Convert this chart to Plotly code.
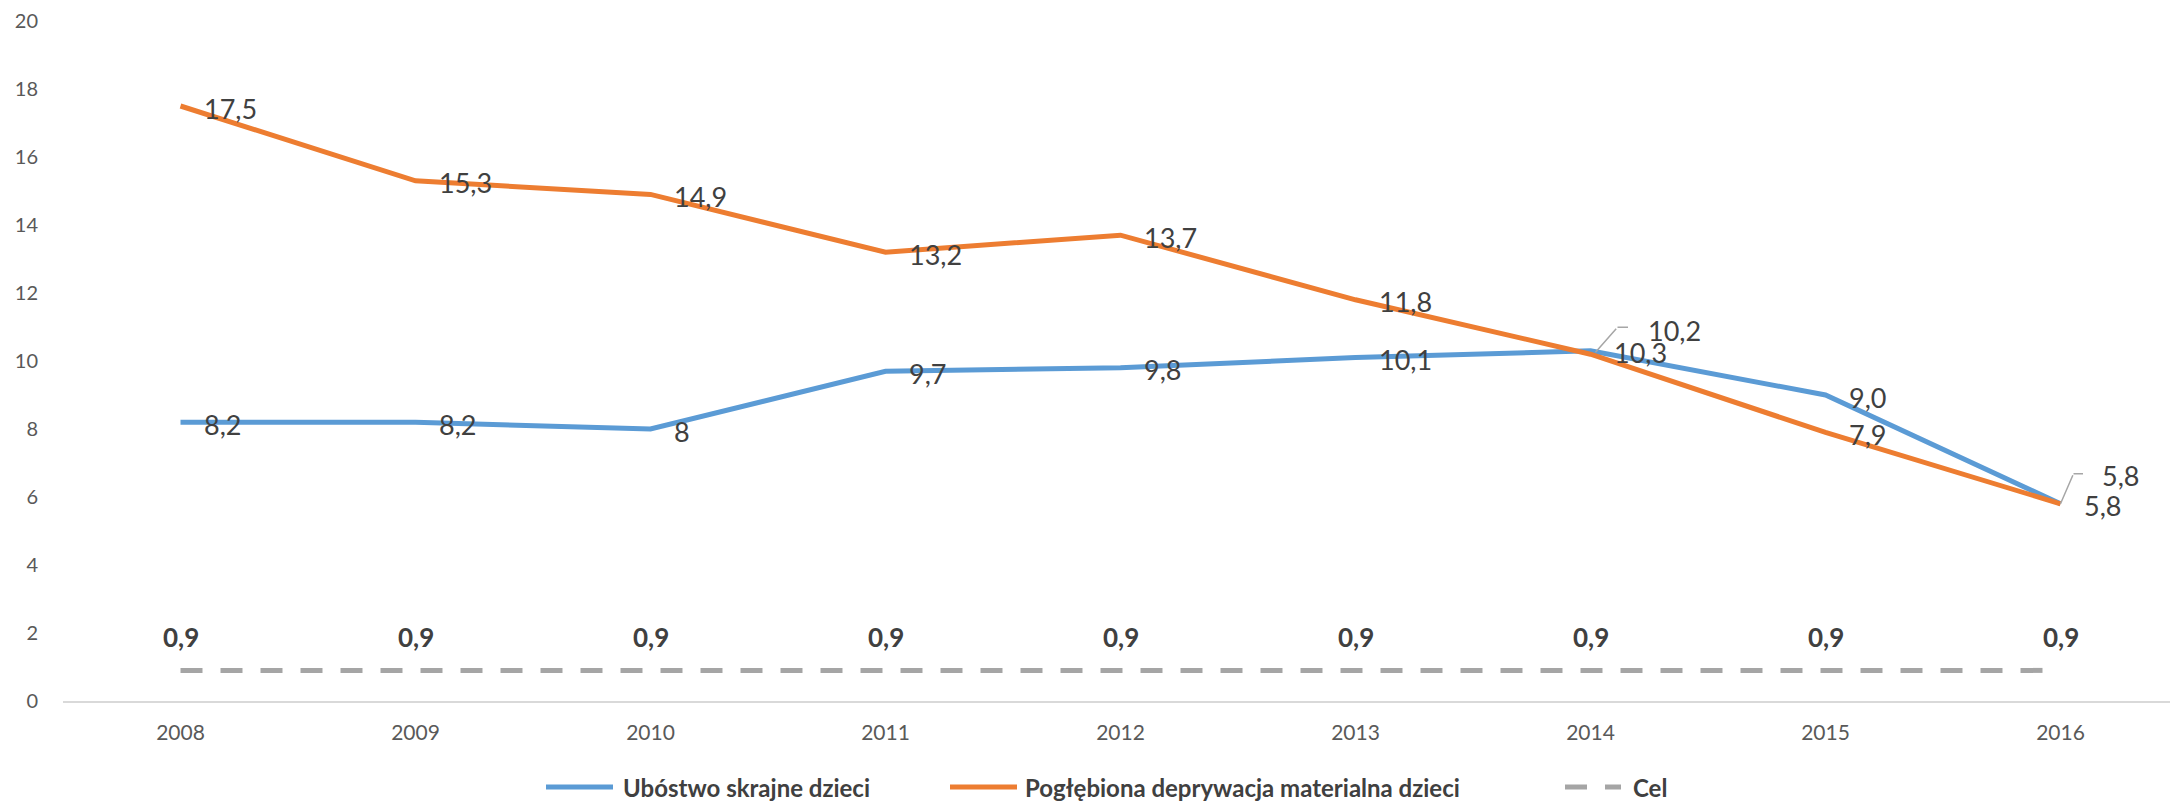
import plotly.graph_objects as go

years = [2008, 2009, 2010, 2011, 2012, 2013, 2014, 2015, 2016]
ubostwo = [8.2, 8.2, 8.0, 9.7, 9.8, 10.1, 10.3, 9.0, 5.8]
ubostwo_labels = ["8,2", "8,2", "8", "9,7", "9,8", "10,1", "10,3", "9,0", "5,8"]
deprywacja = [17.5, 15.3, 14.9, 13.2, 13.7, 11.8, 10.2, 7.9, 5.8]
deprywacja_labels = ["17,5", "15,3", "14,9", "13,2", "13,7", "11,8", "10,2", "7,9", "5,8"]
cel = [0.9] * 9
cel_labels = ["0,9"] * 9
y_ticks = [0, 2, 4, 6, 8, 10, 12, 14, 16, 18, 20]

names = ["Ubóstwo skrajne dzieci", "Pogłębiona deprywacja materialna dzieci", "Cel"]
BLUE, ORANGE, GRAY = "#5B9BD5", "#ED7D31", "#A5A5A5"
FONT = "Lato, 'Open Sans', sans-serif"
TXT = "#404040"

fig = go.Figure()
fig.add_trace(go.Scatter(x=years, y=ubostwo, mode="lines", name=names[0],
                         line=dict(color=BLUE, width=5)))
fig.add_trace(go.Scatter(x=years, y=deprywacja, mode="lines", name=names[1],
                         line=dict(color=ORANGE, width=5)))
fig.add_trace(go.Scatter(x=years, y=cel, mode="lines", name=names[2],
                         line=dict(color=GRAY, width=5, dash="22px,18px")))

LBL = 27
annotations = []
# blue labels: right of the point
for yr, v, t in zip(years, ubostwo, ubostwo_labels):
    annotations.append(dict(x=yr, y=v, text=t, showarrow=False, xanchor="left",
                            yanchor="middle", xshift=21, yshift=-2,
                            font=dict(family=FONT, size=LBL, color=TXT)))
# orange labels (two of them moved away, with leader lines)
leader = {2014: (5, 2, 22, 25, 12, 55, 24), 2016: (0, 0, 13, 30, 11, 39, 28)}
for yr, v, t in zip(years, deprywacja, deprywacja_labels):
    if yr in leader:
        sx, sy, dx, dy, hl, xs, ys = leader[yr]
        # diagonal segment
        annotations.append(dict(x=yr, y=v, text="", showarrow=True, arrowhead=0,
                                arrowwidth=1.5, arrowcolor="#A6A6A6", standoff=0,
                                startstandoff=0, ax=dx, ay=-dy, xshift=sx, yshift=sy))
        # horizontal segment
        annotations.append(dict(x=yr, y=v, text="", showarrow=True, arrowhead=0,
                                arrowwidth=1.5, arrowcolor="#A6A6A6", standoff=0,
                                startstandoff=0, ax=hl, ay=0,
                                xshift=sx + dx, yshift=sy + dy))
    else:
        xs, ys = 21, -2
    annotations.append(dict(x=yr, y=v, text=t, showarrow=False, xanchor="left",
                            yanchor="middle", xshift=xs, yshift=ys,
                            font=dict(family=FONT, size=LBL, color=TXT)))
# target labels
for yr, v, t in zip(years, cel, cel_labels):
    annotations.append(dict(x=yr, y=v, text="<b>" + t + "</b>", showarrow=False,
                            xanchor="center", yanchor="middle", yshift=33,
                            font=dict(family=FONT, size=26, color=TXT)))

# custom legend below the plot (paper coordinates)
shapes = []
legend_y = -0.1265
legend_items = [  # (line start px, line end px, text start px) on screen
    (546, 613, 622), (950, 1017, 1024), (1565, 1621, 1632)]
colors = [BLUE, ORANGE, GRAY]
dashes = ["solid", "solid", "22px,18px"]
L, W = 63, 2115
for (x0, x1, xt), c, d, n in zip(legend_items, colors, dashes, names):
    shapes.append(dict(type="line", xref="paper", yref="paper",
                       x0=(x0 - L) / W, x1=(x1 - L) / W, y0=legend_y, y1=legend_y,
                       line=dict(color=c, width=5, dash=d)))
    annotations.append(dict(xref="paper", yref="paper", x=(xt - L) / W, y=legend_y,
                            text="<b>" + n + "</b>", showarrow=False, xanchor="left",
                            yanchor="middle", borderpad=0,
                            font=dict(family=FONT, size=24, color=TXT)))

# the page body has an 8px margin, so the figure is 8px smaller than the window
fig.update_layout(
    width=2170, height=794,
    margin=dict(l=55, r=0, t=13, b=101),
    paper_bgcolor="white", plot_bgcolor="white",
    font=dict(family=FONT, color="#595959"),
    annotations=annotations, shapes=shapes,
    showlegend=False,
    xaxis=dict(range=[2007.5, 2016.5], tickmode="array", tickvals=years,
               ticktext=[str(y) for y in years], showgrid=False, zeroline=False,
               showline=True, linecolor="#D9D9D9", linewidth=1.5, ticks="",
               tickfont=dict(family=FONT, size=21, color="#595959"),
               ticklabelstandoff=12),
    yaxis=dict(range=[0, 20], tickmode="array", tickvals=y_ticks, showgrid=False,
               zeroline=False, showline=False,
               ticks="", tickfont=dict(family=FONT, size=20, color="#595959"),
               ticklabelstandoff=24),
)

fig.write_html("out.html")
